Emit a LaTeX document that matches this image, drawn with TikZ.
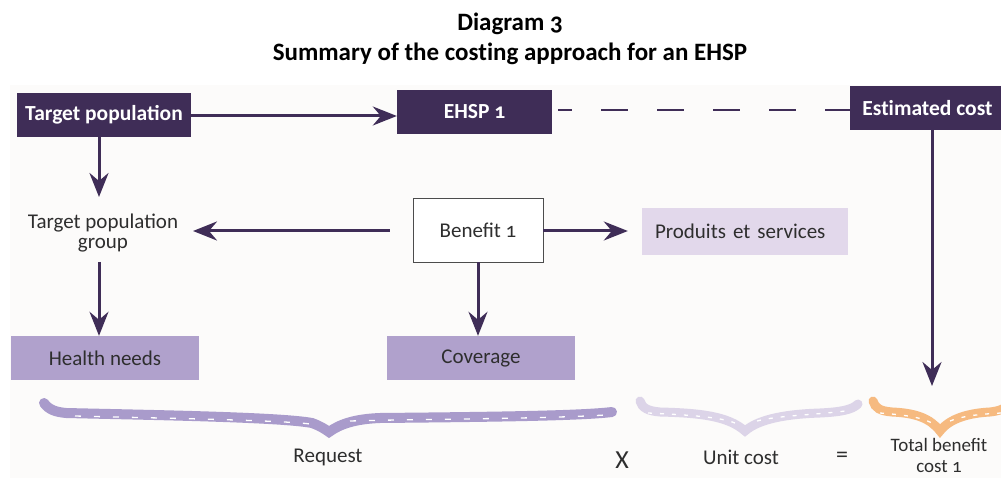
\documentclass[tikz,border=0pt]{standalone}
\usepackage{fontspec}
\setmainfont{Carlito}[Numbers=OldStyle]
\usetikzlibrary{arrows.meta}
\newcommand\noligbreak{\kern0pt{}}
\definecolor{dp}{HTML}{3F2D57}
\definecolor{midp}{HTML}{B0A1CC}
\definecolor{lightp}{HTML}{E2D8EB}
\definecolor{reqc}{HTML}{A99BCB}
\definecolor{ucc}{HTML}{DCD4E8}
\definecolor{orc}{HTML}{F6BA80}
\definecolor{bgc}{HTML}{FCFBFA}
\definecolor{txt}{HTML}{2E2E2E}
\begin{document}
\begin{tikzpicture}[x=1pt,y=-1pt,
  every node/.style={font=\fontsize{21}{21}\selectfont, text=txt},
  darkbox/.style={fill=dp, draw=none, text=white, font=\fontsize{21.5}{22}\selectfont\bfseries, inner sep=0pt, minimum height=44pt},
  midbox/.style={fill=midp, draw=none, inner sep=0pt, minimum width=188pt, minimum height=44pt},
  whitebox/.style={fill=white, draw=black!70, line width=0.9pt, inner sep=0pt, minimum width=130pt, minimum height=64pt},
  arr/.style={draw=dp, line width=3pt, -{Stealth[length=24pt,width=19pt,inset=8pt]}},
  bracepath/.style={line width=#1, line cap=round, line join=miter},
  hatch/.style={draw=white, line width=1.3pt, dash pattern=on 6pt off 13pt}
]
\useasboundingbox (0,0) rectangle (1001,478);
\fill[bgc] (10,85) rectangle (1001,478);

% title
\node[anchor=base, font=\fontsize{25}{28}\selectfont\bfseries, text=black] (t1) at (510,31) {Diagram 3};
\node[anchor=base, font=\fontsize{25}{28}\selectfont\bfseries, text=black] (t2) at (510,61) {Summary of the cost\noligbreak ing approach for an EHSP};

% top row
\node[darkbox, minimum width=174pt] (tp) at (104,115) {Target population};
\node[darkbox, minimum width=155pt] (ehsp) at (474.5,112) {EHSP 1};
\node[darkbox, minimum width=155pt] (est) at (927.5,108) {Est\noligbreak imated cost};

% middle row
\node[align=center, inner xsep=15pt, inner ysep=12pt] (tpg) at (103,233) {Target population\\[-1pt]group};
\node[whitebox] (ben) at (478,230) {Benefit 1};
\node[fill=lightp, inner xsep=13pt, inner ysep=0pt, minimum height=47pt, text width=180pt, align=left] (prod) at (745,231.5) {Produits et services};

% bottom row
\node[midbox] (hn) at (105,358) {Health needs};
\node[midbox] (cov) at (481,358) {Coverage};
\coordinate (estd) at (932,386);

% connectors
\draw[arr] (tp.east |- 0,116) -- (ehsp.west |- 0,116);
\draw[draw=dp, line width=2.2pt, dash pattern=on 27pt off 29pt, dash phase=13pt, shorten <=6pt] (ehsp.east |- 0,110) -- (est.west |- 0,110);
\draw[arr] (tp.south -| 99,0) -- (99,197);
\draw[arr] (99,262) -- (hn.north -| 99,0);
\draw[arr, shorten <=23pt] (ben.west |- 0,231) -- (193,231);
\draw[arr, shorten >=14pt] (ben.east |- 0,231) -- (prod.west |- 0,231);
\draw[arr] (ben.south) -- (cov.north -| ben.south);
\draw[arr] (est.south -| estd) -- (estd);

% braces
\draw[reqc, bracepath=10pt] (44,403) .. controls (49,410) and (56,412) .. (66,413) .. controls (150,415) and (280,417) .. (312,423) .. controls (320,426) and (325,429) .. (329,432) .. controls (340,424) and (355,419) .. (380,418) .. controls (480,417) and (580,416) .. (612,412);
\draw[hatch] (75,416) .. controls (150,418) and (280,420) .. (310,424);
\draw[hatch] (350,421) .. controls (420,419) and (540,419) .. (605,415);

\draw[ucc, bracepath=9pt] (640,401) .. controls (642,408) and (648,411) .. (660,412) .. controls (700,413) and (728,416) .. (745,431) .. controls (760,418) and (790,414) .. (820,413) .. controls (840,412) and (852,410) .. (858,404);
\draw[hatch, dash pattern=on 4pt off 8pt] (648,413) .. controls (690,415) and (720,417) .. (735,423);
\draw[hatch, dash pattern=on 4pt off 8pt] (757,421) .. controls (780,415) and (820,415) .. (852,410);

\draw[orc, bracepath=9pt] (873,401) .. controls (875,408) and (880,411) .. (892,412) .. controls (915,413) and (930,418) .. (940,431) .. controls (950,418) and (970,413) .. (990,412) .. controls (998,411) and (1001,410) .. (1006,407);
\draw[hatch, dash pattern=on 4pt off 8pt] (880,413) .. controls (905,415) and (920,417) .. (932,423);
\draw[hatch, dash pattern=on 4pt off 8pt] (950,421) .. controls (965,415) and (985,414) .. (1001,413);

% labels
\node (lreq) at (328,457) {Request};
\node[font=\fontsize{26}{28}\selectfont] (lx) at (622,460) {X};
\node (luc) at (741,457) {Unit cost};
\node[font=\fontsize{24}{24}\selectfont] (leq) at (842,457) {=};
\node[align=center, font=\fontsize{19}{21}\selectfont, inner sep=0pt] (ltot) at (939,455) {Total benefit\\cost 1};
\end{tikzpicture}
\end{document}
